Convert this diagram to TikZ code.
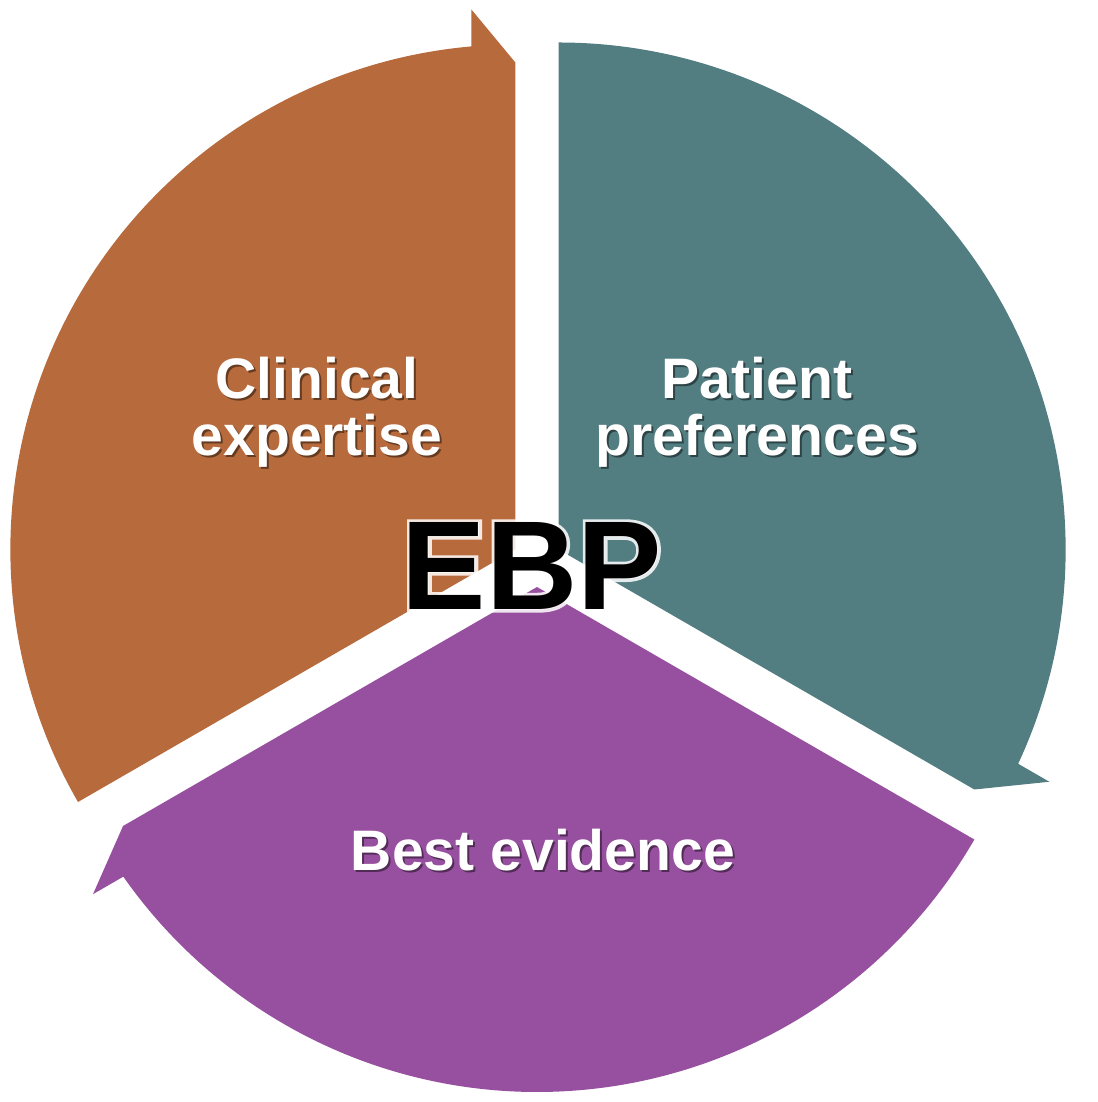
\documentclass[tikz,border=0pt]{standalone}
\usepackage{fontspec}
\setmainfont{Liberation Sans}
\usetikzlibrary{positioning}
\definecolor{clinorange}{RGB}{183,106,59}
\definecolor{patteal}{RGB}{82,125,129}
\definecolor{evipurple}{RGB}{151,80,159}
\newfontfamily\halofont{Liberation Sans}[FakeBold=5]
\tikzstyle{seglabel} = [text=white, font=\bfseries\fontsize{32.5}{32.5}\selectfont, align=center, inner sep=0pt]
\tikzstyle{textshade} = [seglabel, text=black, opacity=0.45]
\tikzstyle{core} = [font=\bfseries\fontsize{72}{72}\selectfont, inner sep=0pt]
\tikzstyle{halo} = [core, font=\halofont\bfseries\fontsize{72}{72}\selectfont, text=white, opacity=0.85]

\begin{document}
\begin{tikzpicture}[x=0.02cm, y=0.02cm]
\useasboundingbox (0,0) rectangle (1098,1102);

% three arrow segments round the centre
\begin{scope}[shift={(537,540)}]
\fill[clinorange, shift={(150:25)}] (0,0) -- (210:505) arc[start angle=210, end angle=95, radius=505] -- ++(90:37) -- (90:487) -- cycle;
\fill[patteal, shift={(30:25)}] (0,0) -- (90:507) arc[start angle=90, end angle=-25, radius=507] -- ++(-30:36) -- (-30:480) -- cycle;
\fill[evipurple, shift={(270:25)}] (0,0) -- (-30:505) arc[start angle=-30, end angle=-145, radius=505] -- ++(210:35) -- (-150:478) -- cycle;
\end{scope}

\coordinate (clinc) at (317,690);
\coordinate (patc) at (757,690);
\coordinate (evic) at (543,252);
\coordinate (ebpc) at (532,536);

\node[textshade] (clinsh) at ([shift={(2,-2)}]clinc) {Clinical\\expertise};
\node[textshade] (patsh) at ([shift={(2,-2)}]patc) {Patient\\preferences};
\node[textshade] (evish) at ([shift={(2,-2)}]evic) {Best evidence};
\node[seglabel] (clin) at (clinc) {Clinical\\expertise};
\node[seglabel] (pat) at (patc) {Patient\\preferences};
\node[seglabel] (evi) at (evic) {Best evidence};

\node[halo] (ebphalo) at (ebpc) {EBP};
\node[core] (ebp) at (ebpc) {EBP};
\end{tikzpicture}
\end{document}
